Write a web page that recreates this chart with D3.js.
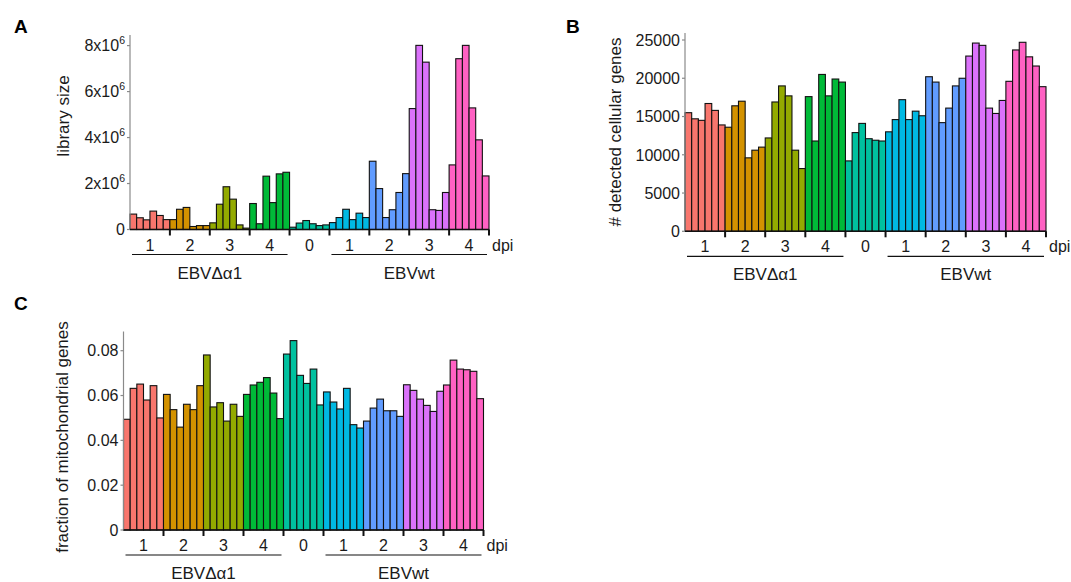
<!DOCTYPE html>
<html><head><meta charset="utf-8">
<script src="https://cdn.jsdelivr.net/npm/d3@7"></script>
<style>
body{margin:0;background:#fff}
text{font-family:"Liberation Sans",Arial,Helvetica,sans-serif;fill:#1a1a1a}
</style>
</head><body>
<svg id="chart" width="1071" height="582"></svg>
<script>
// ---------------- data ----------------
const dpiLabels = ["1","2","3","4","0","1","2","3","4"];
const conditionLabels = ["EBVΔα1","EBVwt"];
const groupColors = ["#F8766D","#D39200","#93AA00","#00BA38","#00C19F","#00B9E3","#619CFF","#DB72FB","#FF61C3"];
const samplesPerGroup = 6;

// library size (reads)
const libSize = [
  0.67e6,0.51e6,0.42e6,0.80e6,0.61e6,0.43e6,
  0.43e6,0.88e6,0.96e6,0.13e6,0.17e6,0.17e6,
  0.29e6,1.10e6,1.86e6,1.32e6,0.20e6,0.06e6,
  1.13e6,0.25e6,2.32e6,1.17e6,2.42e6,2.49e6,
  0.10e6,0.28e6,0.39e6,0.25e6,0.17e6,0.20e6,
  0.30e6,0.52e6,0.88e6,0.43e6,0.71e6,0.52e6,
  2.97e6,1.78e6,0.52e6,0.86e6,1.61e6,2.43e6,
  5.26e6,8.01e6,7.28e6,0.86e6,0.83e6,1.61e6,
  2.81e6,7.43e6,8.01e6,5.29e6,3.90e6,2.33e6
];
// # detected cellular genes
const detectedGenes = [
  15500,14700,14500,16700,15800,13900,
  13600,16400,17000,9600,10600,11000,
  12200,16900,19000,17700,10600,8200,
  17600,11800,20500,17700,19900,19500,
  9200,12900,14100,12100,11900,11800,
  13000,14600,17200,14600,15700,15100,
  20200,19500,14200,16100,19000,20000,
  22900,24600,24300,16100,15400,17100,
  19600,23700,24700,22800,21600,18900
];
// fraction of mitochondrial genes
const mitoFraction = [
  0.0494,0.0632,0.0651,0.0580,0.0644,0.0500,
  0.0605,0.0537,0.0459,0.0561,0.0537,0.0644,
  0.0781,0.0549,0.0568,0.0486,0.0561,0.0507,
  0.0605,0.0647,0.0659,0.0680,0.0611,0.0497,
  0.0785,0.0845,0.0690,0.0654,0.0718,0.0558,
  0.0616,0.0571,0.0540,0.0632,0.0470,0.0455,
  0.0486,0.0544,0.0584,0.0532,0.0532,0.0507,
  0.0648,0.0623,0.0584,0.0556,0.0529,0.0619,
  0.0647,0.0758,0.0718,0.0715,0.0708,0.0586
];
const ticksA = [0,2e6,4e6,6e6,8e6];
const ticksB = [0,5000,10000,15000,20000,25000];
const ticksC = [0,0.02,0.04,0.06,0.08];
const panelLetters = ["A","B","C"];
const yTitles = ["library size","# detected cellular genes","fraction of mitochondrial genes"];

// ---------------- drawing ----------------
const svg = d3.select("#chart");
const nGroups = dpiLabels.length;
const nSamples = nGroups * samplesPerGroup;

function fmtA(v, sel){
  if (v === 0) { sel.text("0"); return; }
  sel.text(null);
  sel.append("tspan").text((v/1e6) + "x10");
  sel.append("tspan").attr("dy", -7).attr("font-size", 10.5).text("6");
}

function drawPanel(p){
  const g = svg.append("g");
  const x = d3.scaleBand().domain(d3.range(nSamples)).range([p.left, p.right]).paddingInner(0).paddingOuter(0);
  const y = d3.scaleLinear().domain([0, p.refVal]).range([p.base, p.refY]);
  const gx = d3.scaleBand().domain(d3.range(nGroups)).range([p.left, p.right]);

  // bars
  g.selectAll("rect.bar").data(p.values).enter().append("rect")
    .attr("x", (d,i)=>x(i))
    .attr("y", d=>y(d))
    .attr("width", x.bandwidth())
    .attr("height", d=>p.base - y(d))
    .attr("fill", (d,i)=>groupColors[Math.floor(i/samplesPerGroup)])
    .attr("stroke", "#111")
    .attr("stroke-width", 1.1);

  // y axis
  g.append("line").attr("x1", p.left).attr("x2", p.left).attr("y1", p.top).attr("y2", p.base)
    .attr("stroke","#8a8a8a").attr("stroke-width",1.2);
  const yt = g.selectAll("g.yt").data(p.ticks).enter().append("g")
    .attr("transform", d=>`translate(${p.left},${y(d)})`);
  yt.append("line").attr("x1",-3).attr("x2",0).attr("stroke","#8a8a8a").attr("stroke-width",1.2);
  yt.append("text").attr("x",-5).attr("dy","0.36em").attr("text-anchor","end")
    .attr("font-size",16)
    .each(function(d){ p.fmt(d, d3.select(this)); });

  // x axis baseline and ticks
  g.append("line").attr("x1", p.left).attr("x2", p.right).attr("y1", p.base).attr("y2", p.base)
    .attr("stroke","#111").attr("stroke-width",1.5);
  g.selectAll("line.xt").data(d3.range(1, nGroups+1)).enter().append("line")
    .attr("x1", d=> d < nGroups ? gx(d) : p.right).attr("x2", d=> d < nGroups ? gx(d) : p.right)
    .attr("y1", p.base).attr("y2", p.base+6)
    .attr("stroke","#111").attr("stroke-width",2);
  g.selectAll("text.xl").data(dpiLabels).enter().append("text")
    .attr("x", (d,i)=>gx(i)+gx.bandwidth()/2).attr("y", p.base+21)
    .attr("text-anchor","middle").attr("font-size",16).text(d=>d);
  g.append("text").attr("x", p.right+3).attr("y", p.base+21).attr("font-size",16).text("dpi");

  // condition underlines and labels
  const spans = [[0,3],[5,8]];
  spans.forEach((s,k)=>{
    const x0 = gx(s[0]) + 2, x1 = gx(s[1]) + gx.bandwidth() - 2;
    g.append("line").attr("x1",x0).attr("x2",x1).attr("y1",p.base+25).attr("y2",p.base+25)
      .attr("stroke","#111").attr("stroke-width",1.2);
    g.append("text").attr("x",(x0+x1)/2).attr("y",p.base+49).attr("text-anchor","middle")
      .attr("font-size",17).text(conditionLabels[k]);
  });

  // y title
  g.append("text").attr("transform",`translate(${p.titleX},${p.titleY}) rotate(-90)`)
    .attr("text-anchor","middle").attr("dy","0.35em").attr("font-size",17).text(p.title);
  // panel letter
  g.append("text").attr("x",p.letterX).attr("y",p.letterY).attr("font-size",19)
    .attr("font-weight","bold").style("fill","#000").text(p.letter);
}

drawPanel({values:libSize, ticks:ticksA, fmt:fmtA, refVal:8e6,
  left:130, right:489, base:229.5, refY:45.6, top:35,
  title:yTitles[0], titleX:63, titleY:116, letter:panelLetters[0], letterX:14, letterY:33});
drawPanel({values:detectedGenes, ticks:ticksB, fmt:(v,s)=>s.text(v), refVal:25000,
  left:685, right:1046, base:231.3, refY:40, top:33,
  title:yTitles[1], titleX:615, titleY:132, letter:panelLetters[1], letterX:566, letterY:33});
drawPanel({values:mitoFraction, ticks:ticksC, fmt:(v,s)=>s.text(v===0?"0":d3.format(".2f")(v)), refVal:0.08,
  left:123.5, right:483.5, base:530, refY:350.7, top:331.5,
  title:yTitles[2], titleX:62, titleY:437, letter:panelLetters[2], letterX:14, letterY:310});
</script>
</body></html>
